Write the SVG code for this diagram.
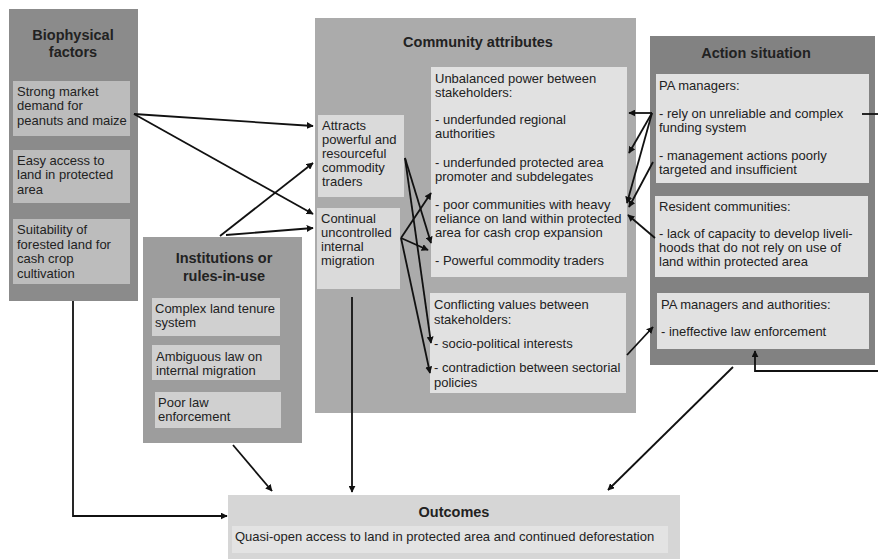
<svg xmlns="http://www.w3.org/2000/svg" width="878" height="559" viewBox="0 0 878 559">
<style>
text{font-family:"Liberation Sans",Arial,sans-serif;font-size:13px;fill:#222}
.t{font-weight:bold;font-size:14.5px;text-anchor:middle}
.c{stroke:#111;stroke-width:1.8;fill:none}
.a{marker-end:url(#ah)}
</style>
<defs>
<marker id="ah" viewBox="0 0 10 10" refX="9" refY="5" markerWidth="7" markerHeight="7" markerUnits="userSpaceOnUse" orient="auto">
<path d="M0,0 L10,5 L0,10 z" fill="#111"/>
</marker>
</defs>
<rect width="878" height="559" fill="#fff"/>

<g id="biophysical">
<rect x="9" y="9" width="129" height="292" fill="#8b8b8b"/>
<text class="t" x="73" y="40">Biophysical</text>
<text class="t" x="73" y="57">factors</text>
<rect x="13" y="81" width="117" height="55" fill="#bcbcbc"/>
<text x="17" y="95.5">Strong market</text>
<text x="17" y="110">demand for</text>
<text x="17" y="124.5">peanuts and maize</text>
<rect x="13" y="150" width="117" height="53" fill="#bcbcbc"/>
<text x="17" y="164.5">Easy access to</text>
<text x="17" y="179">land in protected</text>
<text x="17" y="193.5">area</text>
<rect x="13" y="219" width="117" height="65" fill="#bcbcbc"/>
<text x="17" y="234">Suitability of</text>
<text x="17" y="248.5">forested land for</text>
<text x="17" y="263">cash crop</text>
<text x="17" y="277.5">cultivation</text>
</g>

<g id="institutions">
<rect x="143" y="237" width="159" height="206" fill="#9d9d9d"/>
<text class="t" x="224" y="263">Institutions or</text>
<text class="t" x="224" y="281">rules-in-use</text>
<rect x="152" y="298" width="128" height="38" fill="#d0d0d0"/>
<text x="155" y="313">Complex land tenure</text>
<text x="155" y="327">system</text>
<rect x="152" y="345" width="128" height="35" fill="#d0d0d0"/>
<text x="156" y="361">Ambiguous law on</text>
<text x="156" y="375">internal migration</text>
<rect x="155" y="392" width="126" height="36" fill="#d0d0d0"/>
<text x="158" y="407">Poor law</text>
<text x="158" y="421">enforcement</text>
</g>

<g id="community">
<rect x="315" y="18" width="321" height="395" fill="#ababab"/>
<text class="t" x="478" y="47">Community attributes</text>
</g>

<g id="attracts">
<rect x="318" y="115" width="86" height="82" fill="#dadada"/>
<text x="322" y="130">Attracts</text>
<text x="322" y="144">powerful and</text>
<text x="322" y="158">resourceful</text>
<text x="322" y="172">commodity</text>
<text x="322" y="186">traders</text>
</g>

<g id="migration">
<rect x="317" y="208" width="83" height="81" fill="#dadada"/>
<text x="321" y="223">Continual</text>
<text x="321" y="237">uncontrolled</text>
<text x="321" y="251">internal</text>
<text x="321" y="265">migration</text>
</g>

<g id="unbalanced">
<rect x="431" y="67" width="196" height="210" fill="#e1e1e1"/>
<text x="435" y="83">Unbalanced power between</text>
<text x="435" y="97">stakeholders:</text>
<text x="435" y="124">- underfunded regional</text>
<text x="435" y="138">authorities</text>
<text x="435" y="167">- underfunded protected area</text>
<text x="435" y="181">promoter and subdelegates</text>
<text x="435" y="209">- poor communities with heavy</text>
<text x="435" y="223">reliance on land within protected</text>
<text x="435" y="237">area for cash crop expansion</text>
<text x="435" y="265">- Powerful commodity traders</text>
</g>

<g id="conflicting">
<rect x="430" y="293" width="196" height="100" fill="#e1e1e1"/>
<text x="434" y="309">Conflicting values between</text>
<text x="434" y="324">stakeholders:</text>
<text x="434" y="348">- socio-political interests</text>
<text x="434" y="372">- contradiction between sectorial</text>
<text x="434" y="387">policies</text>
</g>

<g id="action">
<rect x="650" y="36" width="225" height="329" fill="#828282"/>
<text class="t" x="756" y="58">Action situation</text>
<rect x="656" y="74" width="213" height="109" fill="#e1e1e1"/>
<text x="659" y="90">PA managers:</text>
<text x="659" y="118">- rely on unreliable and complex</text>
<text x="659" y="132">funding system</text>
<text x="659" y="160">- management actions poorly</text>
<text x="659" y="174">targeted and insufficient</text>
<rect x="655" y="196" width="213" height="81" fill="#e1e1e1"/>
<text x="659" y="211">Resident communities:</text>
<text x="659" y="238">- lack of capacity to develop liveli-</text>
<text x="659" y="252">hoods that do not rely on use of</text>
<text x="659" y="266">land within protected area</text>
<rect x="657" y="293" width="212" height="56" fill="#e1e1e1"/>
<text x="661" y="309">PA managers and authorities:</text>
<text x="661" y="336">- ineffective law enforcement</text>
</g>

<g id="outcomes">
<rect x="228" y="495" width="452" height="64" fill="#d6d6d6"/>
<text class="t" x="454" y="517">Outcomes</text>
<rect x="232" y="526" width="436" height="27" fill="#e3e3e3"/>
<text x="235" y="541">Quasi-open access to land in protected area and continued deforestation</text>
</g>

<g id="connectors">
<path class="c a" d="M134,114 L313,126"/>
<path class="c a" d="M134,114 L313,214"/>
<path class="c a" d="M220,236 L313,163"/>
<path class="c a" d="M226,235 L313,228"/>
<path class="c a" d="M405,158 L431,243"/>
<path class="c a" d="M405,158 L431,343"/>
<path class="c a" d="M401,238 L431,193"/>
<path class="c a" d="M401,238 L428,250"/>
<path class="c a" d="M401,238 L430,373"/>
<path class="c a" d="M652,113 L629,113"/>
<path class="c a" d="M652,113 L629,153"/>
<path class="c a" d="M652,113 L627,203"/>
<path class="c a" d="M653,162 L629,207"/>
<path class="c a" d="M655,238 L628,215"/>
<path class="c a" d="M627,355 L653,327"/>
<path class="c a" d="M733,367 L608,490"/>
<path class="c" d="M862,114 L878,114"/>
<path class="c a" d="M878,371 L755,371 L755,351"/>
<path class="c a" d="M73,301 L73,516 L227,516"/>
<path class="c a" d="M233,445 L272,491"/>
<path class="c a" d="M352,297 L352,492"/>
</g>
</svg>
